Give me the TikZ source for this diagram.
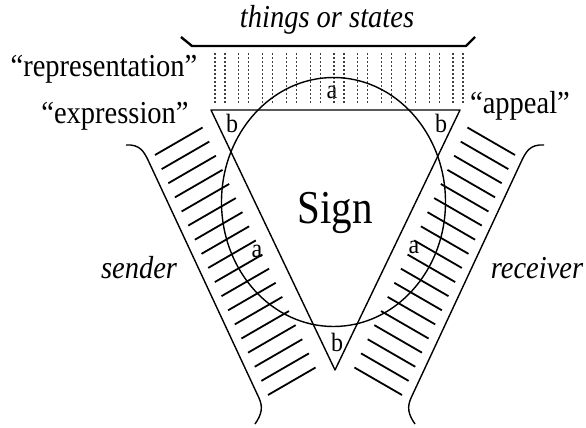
\documentclass[tikz,border=0pt]{standalone}
\usepackage{fontspec}
\setmainfont{Liberation Serif}
\begin{document}
\begin{tikzpicture}[x=1pt,y=-1pt,line join=round,
  lbl/.style={inner sep=0pt,font=\fontsize{28.5}{30}\selectfont,yscale=1.12,transform shape},
  letter/.style={inner sep=0pt,font=\fontsize{24}{26}\selectfont,yscale=1.1,transform shape},
  big/.style={inner sep=0pt,font=\fontsize{41}{44}\selectfont,yscale=1.15,transform shape},
  edge/.style={line width=1.4pt},
  bar/.style={line width=2.4pt},
  hatch/.style={line width=1.8pt},
  dashline/.style={line width=1.1pt,dash pattern=on 2.4pt off 1.6pt,black!75}]
\useasboundingbox (0,0) rectangle (586,428);
% top bar (things or states)
\node[lbl,anchor=base] (things) at (327,28) {\itshape things or states};
\coordinate (barL) at (192,46);
\coordinate (barR) at (466,46);
\draw[bar] (181,37) -- (barL) -- (barR) -- (475,37);
% top letter a and dashed rays
\node[letter] (atop) at (332,92) {a};
\foreach \k in {0,...,10}{
  \pgfmathsetmacro\xa{215+23.8*\k}
  \pgfmathsetmacro\xb{225+23.8*\k}
  \draw[dashline] (\xa,53) -- (\xa,104);
  \draw[dashline] (\xb,53) -- (\xb,104);
}
% triangle
\coordinate (TL) at (211,110);
\coordinate (TR) at (460,110);
\coordinate (BV) at (335,370);
\draw[edge] (TL) -- (TR) -- (BV) -- cycle;
% circle
\coordinate (C) at (333.5,202);
\draw[edge] (C) ellipse [x radius=112,y radius=124.5];
% left band (sender)
\draw[edge] (126,145) .. controls (140,144) and (144,152) .. (148,160)
  -- (259,398) .. controls (263,407) and (262,414) .. (255,424);
\foreach \i in {0,...,17}{
  \pgfmathsetmacro\sx{155+113*\i/17}
  \pgfmathsetmacro\sy{155+240*\i/17}
  \draw[hatch] (\sx,\sy) -- ++(47.6,-27.5);
}
% right band (receiver), mirrored
\begin{scope}[xshift=670pt,xscale=-1]
\draw[edge] (126,145) .. controls (140,144) and (144,152) .. (148,160)
  -- (259,398) .. controls (263,407) and (262,414) .. (255,424);
\foreach \i in {0,...,17}{
  \pgfmathsetmacro\sx{155+113*\i/17}
  \pgfmathsetmacro\sy{155+240*\i/17}
  \draw[hatch] (\sx,\sy) -- ++(47.6,-27.5);
}
\end{scope}
% labels
\node[lbl,anchor=base] (repr) at (104,76) {“representation”};
\node[lbl,anchor=base] (expr) at (115,123) {“expression”};
\node[lbl,anchor=base] (appeal) at (520,113) {“appeal”};
\node[lbl,anchor=base] (sender) at (139,278) {\itshape sender};
\node[lbl,anchor=base] (receiver) at (537,278) {\itshape receiver};
\node[big,anchor=base] (sign) at (335,223) {Sign};
\node[letter] (bl) at (232,123) {b};
\node[letter] (br) at (441,123) {b};
\node[letter] (bb) at (337,342) {b};
\node[letter] (al) at (257,251) {a};
\node[letter] (ar) at (414,247) {a};
\end{tikzpicture}
\end{document}
